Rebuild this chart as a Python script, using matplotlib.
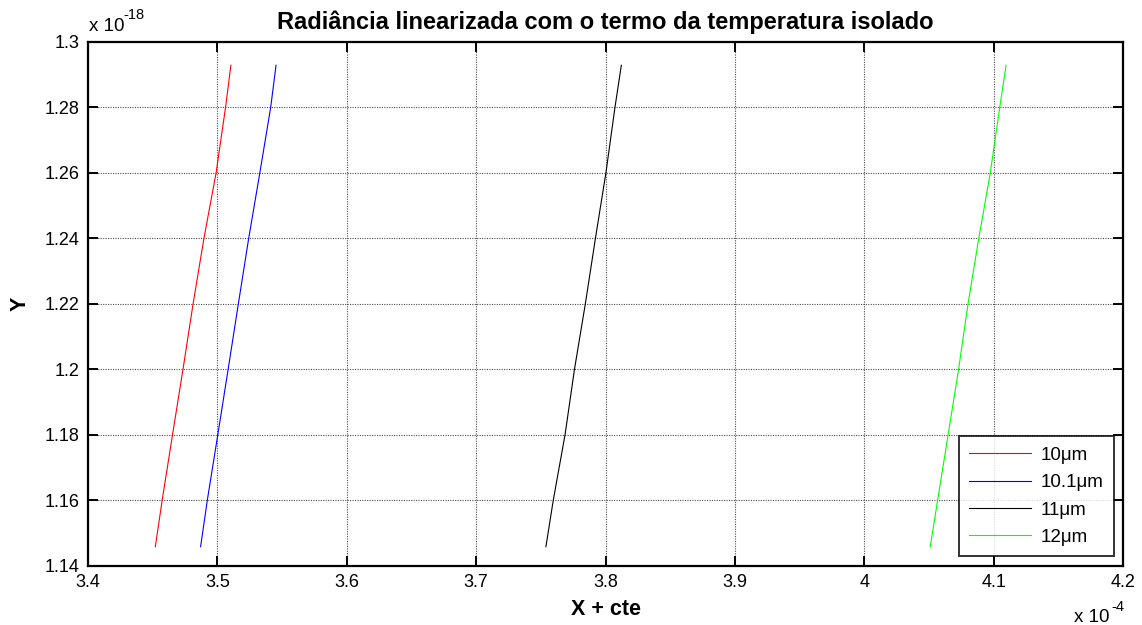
import matplotlib
matplotlib.use("Agg")
import matplotlib.pyplot as plt
from matplotlib.ticker import FuncFormatter

plt.rcParams['font.family'] = ['Liberation Sans', 'DejaVu Sans']

# Y values (units of 1e-18), shared by every wavelength
y_vals = [1.2928, 1.28, 1.26, 1.24, 1.22, 1.20, 1.18, 1.16, 1.1458]

# X + cte (units of 1e-4) for each wavelength
x_10um = [3.5104, 3.5063, 3.4990, 3.4896, 3.4812, 3.4734, 3.4653, 3.4573, 3.4520]
x_10_1um = [3.5453, 3.5412, 3.5328, 3.5242, 3.5162, 3.5083, 3.5003, 3.4922, 3.4870]
x_11um = [3.8122, 3.8073, 3.8003, 3.7922, 3.7844, 3.7760, 3.7687, 3.7596, 3.7539]
x_12um = [4.1096, 4.1047, 4.0974, 4.0885, 4.0802, 4.0729, 4.0648, 4.0567, 4.0510]

labels = ['10\u03bcm', '10.1\u03bcm', '11\u03bcm', '12\u03bcm']
colors = ['#ff0000', '#0000ff', '#000000', '#00ff00']

x_ticks = [3.4, 3.5, 3.6, 3.7, 3.8, 3.9, 4.0, 4.1, 4.2]
y_ticks = [1.14, 1.16, 1.18, 1.20, 1.22, 1.24, 1.26, 1.28, 1.30]

fig = plt.figure(figsize=(11.42, 6.25), dpi=100)
ax = fig.add_axes([0.0771, 0.0949, 0.9063, 0.8384])

for xs, lab, col in zip([x_10um, x_10_1um, x_11um, x_12um], labels, colors):
    ax.plot(xs, y_vals, color=col, lw=0.8, label=lab)

ax.set_xlim(3.4, 4.2)
ax.set_ylim(1.14, 1.30)
ax.set_xticks(x_ticks)
ax.set_yticks(y_ticks)
ax.xaxis.set_major_formatter(FuncFormatter(lambda v, p: f"{v:g}"))
ax.yaxis.set_major_formatter(FuncFormatter(lambda v, p: f"{v:g}"))

ax.grid(True, color='0.3', linestyle=(0, (1, 1.2)), linewidth=0.8)
ax.tick_params(direction='in', length=7, width=1.4, top=True, right=True,
               labelsize=13, pad=6)
for s in ax.spines.values():
    s.set_linewidth(1.6)

ax.set_title('Radiância linearizada com o termo da temperatura isolado',
             fontsize=17, fontweight='bold', pad=9)
ax.set_xlabel('X + cte', fontsize=15.5, fontweight='bold', labelpad=6)
ax.set_ylabel('Y', fontsize=15.5, fontweight='bold', labelpad=10)

# exponent annotations for both axes ("x 10" with a raised exponent)
fig.text(89 / 1142, 1 - 31 / 625, 'x 10', fontsize=13.5, ha='left', va='baseline')
fig.text(123 / 1142, 1 - 19 / 625, '-18', fontsize=10.5, ha='left', va='baseline')
fig.text(1074 / 1142, 1 - 622 / 625, 'x 10', fontsize=13.5, ha='left', va='baseline')
fig.text(1111 / 1142, 1 - 611 / 625, '-4', fontsize=10.5, ha='left', va='baseline')

leg = ax.legend(loc='lower right', fontsize=13.5, frameon=True, fancybox=False,
                edgecolor='black', handlelength=3.3, handletextpad=0.5,
                borderpad=0.55, labelspacing=0.55, borderaxespad=0.5)
leg.get_frame().set_linewidth(1.4)

fig.savefig('out.png', dpi=100)
